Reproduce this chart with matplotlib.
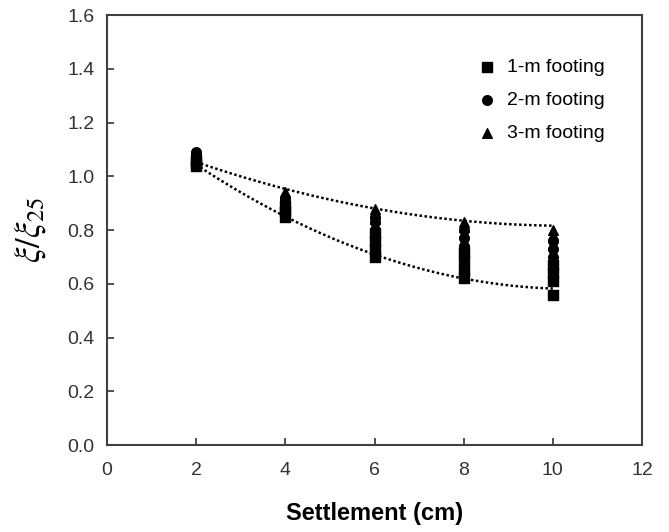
import numpy as np
import matplotlib
matplotlib.use('Agg')
from matplotlib import pyplot as plt

plt.rcParams['font.family'] = ['Liberation Sans', 'DejaVu Sans']
plt.rcParams['mathtext.fontset'] = 'stix'

settlement = [2, 4, 6, 8, 10]

# xi/xi25 values, one list per settlement
footing_1m = [[1.04, 1.05, 1.06],
              [0.85, 0.87, 0.89],
              [0.70, 0.73, 0.76, 0.79],
              [0.62, 0.65, 0.69, 0.72],
              [0.56, 0.61, 0.64, 0.67]]
footing_2m = [[1.07, 1.08, 1.09],
              [0.88, 0.90, 0.92],
              [0.77, 0.80, 0.83, 0.85],
              [0.70, 0.74, 0.77, 0.80],
              [0.66, 0.70, 0.73, 0.76]]
footing_3m = [[1.06, 1.08],
              [0.91, 0.93, 0.94],
              [0.84, 0.86, 0.88],
              [0.79, 0.81, 0.83],
              [0.75, 0.78, 0.80]]

# trend lines (upper and lower envelope)
upper_trend = [1.055, 0.949, 0.882, 0.837, 0.815]
lower_trend = [1.045, 0.848, 0.707, 0.625, 0.580]

series = [('1-m footing', footing_1m, 's'),
          ('2-m footing', footing_2m, 'o'),
          ('3-m footing', footing_3m, '^')]

fig = plt.figure(figsize=(6.69, 5.32), dpi=100)
ax = fig.add_axes([0.16, 0.1635, 0.7996, 0.808])

xs = np.linspace(2, 10, 200)
for trend in [upper_trend, lower_trend]:
    coef = np.polyfit(settlement, trend, 2)
    ax.plot(xs, np.polyval(coef, xs), color='black', lw=1.8, ls=(0, (1, 1)), zorder=2)

for label, vals, mk in series:
    px = [s for s, v in zip(settlement, vals) for _ in v]
    py = [y for v in vals for y in v]
    ax.scatter(px, py, marker=mk, s=48, color='black', label=label, zorder=3)

ax.set_xlim(0, 12)
ax.set_ylim(0, 1.6)
ax.set_xticks(range(0, 13, 2))
ax.set_yticks(np.arange(0, 1.61, 0.2))
ax.set_yticklabels(['%.1f' % v for v in np.arange(0, 1.61, 0.2)])
ax.tick_params(direction='in', length=5, width=1.2, labelsize=14, pad=12, colors='#333333')
ax.tick_params(axis='y', pad=9)
for sp in ax.spines.values():
    sp.set_color('#404040')
    sp.set_linewidth(1.5)

ax.set_xlabel('Settlement (cm)', fontsize=17, fontweight='bold', labelpad=17)
ax.set_ylabel(r'$\xi/\xi_{25}$', fontsize=25, labelpad=14)

ax.legend(loc='upper left', bbox_to_anchor=(0.692, 0.900), frameon=False, fontsize=14,
          borderaxespad=0, borderpad=0, handletextpad=0.55, labelspacing=0.8,
          handlelength=1.0, scatterpoints=1)

fig.savefig('out.png', dpi=100)
